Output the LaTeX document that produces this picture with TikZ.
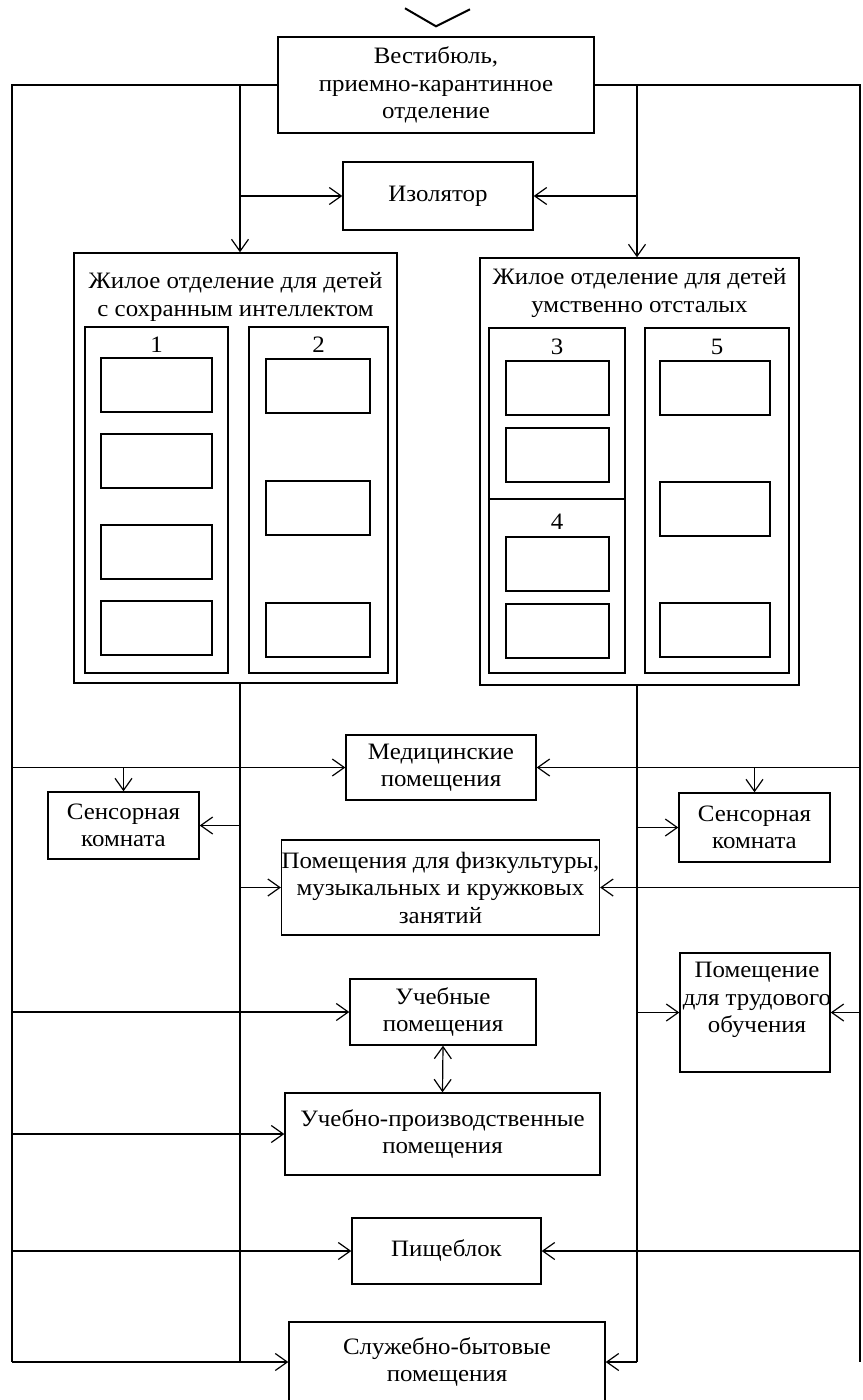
\documentclass[tikz,border=0pt]{standalone}
\usepackage{fontspec}
\setmainfont[FakeStretch=1.06]{Liberation Serif}
\usetikzlibrary{arrows.meta,positioning}

\begin{document}
\begin{tikzpicture}[x=1pt,y=-1pt,line width=1.2pt,
	every node/.style={font=\fontsize{23.5}{27.5}\selectfont,align=center,inner sep=0pt},
	box/.style={draw,line width=1.4pt},
	room/.style={box,minimum width=108pt,minimum height=54pt},
	arr/.style={-{Straight Barb[length=12pt,width=17pt]}},
	dbl/.style={{Straight Barb[length=12pt,width=17pt]}-{Straight Barb[length=12pt,width=17pt]}}]
					\clip (0,0) rectangle (862,1400);
					% upper part
					\node[box,minimum width=316pt,minimum height=96pt] (vest) at (436,85){Вестибюль,\\приемно-карантинное\\отделение};
					\node[box,minimum width=190pt,minimum height=68pt] (izol) at (438,196){Изолятор};
					\node[box,minimum width=323pt,minimum height=430pt] (zhil1) at (235.5,468){};
					\node[box,minimum width=319pt,minimum height=427pt] (zhil2) at (639.5,471.5){};
					\node[below=20pt of zhil1.north] (tit1){Жилое отделение для детей\\с сохранным интеллектом};
					\node[below=11pt of zhil2.north] (tit2){Жилое отделение для детей\\умственно отсталых};
					% groups 1-5
					\node[box,minimum width=143pt,minimum height=346pt] (s1) at (156.5,500){};
					\node[box,minimum width=139pt,minimum height=346pt] (s2) at (318.5,500){};
					\node[box,minimum width=136pt,minimum height=171pt] (s3) at (557,413.5){};
					\node[box,minimum width=136pt,minimum height=174pt] (s4) at (557,586){};
					\node[box,minimum width=144pt,minimum height=345pt] (s5) at (717,500.5){};
					\node[below=10pt of s1.north] (n1){1};
					\node[below=10pt of s2.north] (n2){2};
					\node[below=11pt of s3.north] (n3){3};
					\node[below=15pt of s4.north] (n4){4};
					\node[below=11pt of s5.north] (n5){5};
					\foreach \y in {385,461,552,628}
						\node[room,minimum width=111pt] (ra\y) at (156.5,\y){};
					\foreach \y in {386,508,630}
						\node[room,minimum width=104pt] (rb\y) at (318,\y){};
					\foreach \y in {388,455,564,631}
						\node[room,minimum width=103pt] (rc\y) at (557.5,\y){};
					\foreach \y in {388,509,630}
						\node[room,minimum width=110pt] (rd\y) at (715,\y){};
					% lower part
					\node[box,minimum width=190pt,minimum height=65pt] (med) at (441,767.5){Медицинские\\помещения};
					\node[box,minimum width=151pt,minimum height=67pt] (sensL) at (123.5,825.5){Сенсорная\\комната};
					\node[box,minimum width=151pt,minimum height=69pt] (sensR) at (754.5,827.5){Сенсорная\\комната};
					\node[box,minimum width=315pt,minimum height=95pt] (fiz) at (440.5,887.5){Помещения для физкультуры,\\музыкальных и кружковых\\занятий};
					\node[box,minimum width=186pt,minimum height=66pt] (ucheb) at (443,1012){Учебные\\помещения};
					\node[box,minimum width=150pt,minimum height=119pt] (trud) at (755,1012.5){};
					\node (trudt) at (757,1000){Помещение\\для трудового\\обучения};
					\node[box,minimum width=315pt,minimum height=82pt] (uchpr) at (442.5,1134){Учебно-производственные\\помещения};
					\node[box,minimum width=189pt,minimum height=66pt] (pish) at (446.5,1251){Пищеблок};
					\node[box,minimum width=316pt,minimum height=80pt] (sluzh) at (447,1362){Служебно-бытовые\\помещения};
					% entrance
					\draw[line width=2pt] ([shift={(-31pt,28pt)}]vest.north)--([yshift=10pt]vest.north)--([shift={(34pt,27pt)}]vest.north);
					% lines
					\coordinate (olt) at (12,85);
					\coordinate (ilt) at (240,85);
					\coordinate (irt) at (637,85);
					\coordinate (ort) at (860,85);
					\draw (vest.west)--(olt)--(olt |- sluzh.west);
					\draw (vest.east)--(ort)--(ort |- sluzh.east);
					\draw (ilt |- zhil1.south)--(ilt |- sluzh.west);
					\draw (irt |- zhil2.south)--(irt |- sluzh.east);
					\draw[arr] (ilt)--(ilt |- zhil1.north);
					\draw[arr] (irt)--(irt |- zhil2.north);
					\draw[arr] (ilt |- izol.west)--(izol.west);
					\draw[arr] (irt |- izol.east)--(izol.east);
					\draw[arr] (olt |- med.west)--(med.west);
					\draw[arr] (ort |- med.east)--(med.east);
					\draw[arr] (sensL.north |- med.west)--(sensL.north);
					\draw[arr] (sensR.north |- med.east)--(sensR.north);
					\draw[arr] (ilt |- sensL.east)--(sensL.east);
					\draw[arr] (irt |- sensR.west)--(sensR.west);
					\draw[arr] (ilt |- fiz.west)--(fiz.west);
					\draw[arr] (ort |- fiz.east)--(fiz.east);
					\draw[arr] (olt |- ucheb.west)--(ucheb.west);
					\draw[arr] (irt |- trud.west)--(trud.west);
					\draw[arr] (ort |- trud.east)--(trud.east);
					\draw[dbl] (ucheb.south)--(uchpr.north);
					\draw[arr] (olt |- uchpr.west)--(uchpr.west);
					\draw[arr] (olt |- pish.west)--(pish.west);
					\draw[arr] (ort |- pish.east)--(pish.east);
					\draw[arr] (olt |- sluzh.west)--(sluzh.west);
					\draw[arr] (irt |- sluzh.east)--(sluzh.east);
\end{tikzpicture}
\end{document}
